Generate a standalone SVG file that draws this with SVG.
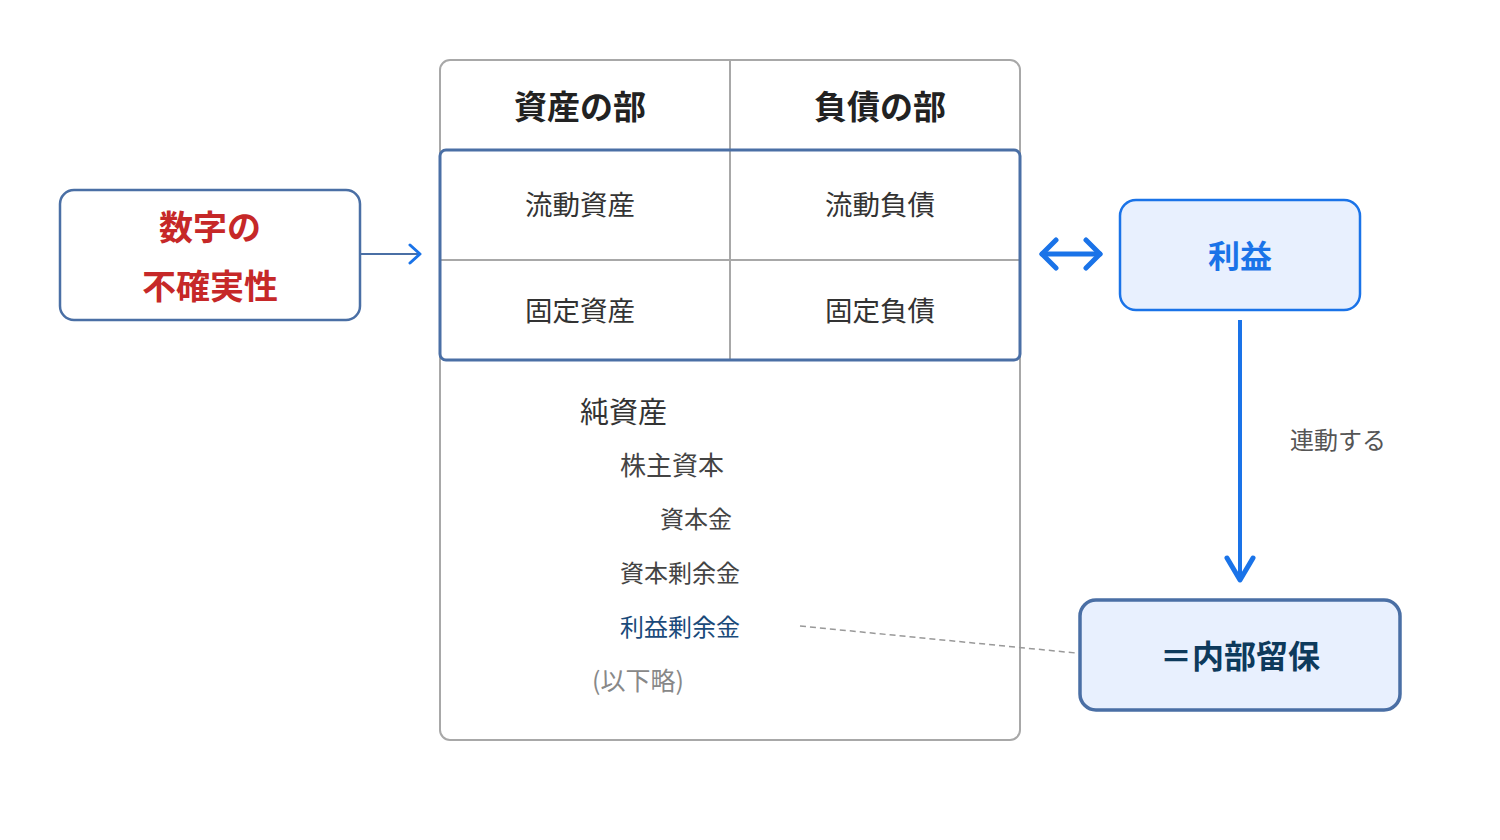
<svg xmlns="http://www.w3.org/2000/svg" width="1500" height="840" viewBox="0 0 1500 840">
<style>
text{font-family:"Noto Sans CJK JP","Noto Sans",sans-serif;}
.hd{font-size:33px;font-weight:bold;fill:#222;text-anchor:middle;}
.cell{font-size:27.5px;fill:#333;text-anchor:middle;}
.grid{stroke:#a8a8a8;stroke-width:2;fill:none;}
.eq{font-size:24px;fill:#444;}
</style>
<rect width="1500" height="840" fill="#fff"/>

<g id="balance-sheet">
<rect x="440" y="60" width="580" height="680" rx="10" class="grid"/>
<line x1="730" y1="60" x2="730" y2="150" class="grid"/>
<line x1="730" y1="150" x2="730" y2="360" class="grid"/>
<line x1="440" y1="260" x2="1020" y2="260" class="grid"/>
<rect x="440" y="150" width="580" height="210" rx="6" fill="none" stroke="#4a6fa5" stroke-width="3"/>
<text x="580" y="119" class="hd">資産の部</text>
<text x="880" y="119" class="hd">負債の部</text>
<text x="580" y="215" class="cell">流動資産</text>
<text x="880" y="215" class="cell">流動負債</text>
<text x="580" y="321" class="cell">固定資産</text>
<text x="880" y="321" class="cell">固定負債</text>
<text x="580" y="423" font-size="29" fill="#333">純資産</text>
<text x="620" y="475" font-size="26" fill="#444">株主資本</text>
<text x="660" y="528" class="eq">資本金</text>
<text x="620" y="582" class="eq">資本剰余金</text>
<text x="620" y="636" font-size="24" fill="#1a4a7a">利益剰余金</text>
<text x="592" y="690" font-size="25" fill="#888">(以下略)</text>
</g>

<g id="uncertainty">
<rect x="60" y="190" width="300" height="130" rx="14" fill="#fff" stroke="#4a6fa5" stroke-width="2.5"/>
<text x="210" y="240" font-size="34" font-weight="bold" fill="#c62828" text-anchor="middle">数字の</text>
<text x="210" y="299" font-size="34" font-weight="bold" fill="#c62828" text-anchor="middle">不確実性</text>
</g>

<g id="profit">
<rect x="1120" y="200" width="240" height="110" rx="16" fill="#e8f0fe" stroke="#1a73e8" stroke-width="2.5"/>
<text x="1240" y="268" font-size="32" font-weight="bold" fill="#1a73e8" text-anchor="middle">利益</text>
</g>

<g id="retained">
<rect x="1080" y="600" width="320" height="110" rx="16" fill="#e8f0fe" stroke="#4a6fa5" stroke-width="3.5"/>
<text x="1240" y="668" font-size="32" font-weight="bold" fill="#0d3a5c" text-anchor="middle">＝内部留保</text>
</g>

<g id="connectors">
<line x1="360" y1="254" x2="420" y2="254" stroke="#4a6fa5" stroke-width="2"/>
<path d="M410,245 L420,254 L410,263" fill="none" stroke="#1a73e8" stroke-width="3" stroke-linecap="round" stroke-linejoin="round"/>
<line x1="1042" y1="254" x2="1100" y2="254" stroke="#1a73e8" stroke-width="5" stroke-linecap="round"/>
<path d="M1056,240 L1042,254 L1056,268" fill="none" stroke="#1a73e8" stroke-width="5" stroke-linecap="round" stroke-linejoin="round"/>
<path d="M1086,240 L1100,254 L1086,268" fill="none" stroke="#1a73e8" stroke-width="5" stroke-linecap="round" stroke-linejoin="round"/>
<line x1="1240" y1="320" x2="1240" y2="578" stroke="#1a73e8" stroke-width="4"/>
<path d="M1227,558 L1240,580 L1253,558" fill="none" stroke="#1a73e8" stroke-width="5" stroke-linecap="round" stroke-linejoin="round"/>
<text x="1290" y="449" font-size="24" fill="#555">連動する</text>
<line x1="800" y1="626" x2="1076" y2="653" stroke="#999" stroke-width="1.5" stroke-dasharray="6,4"/>
</g>
</svg>
